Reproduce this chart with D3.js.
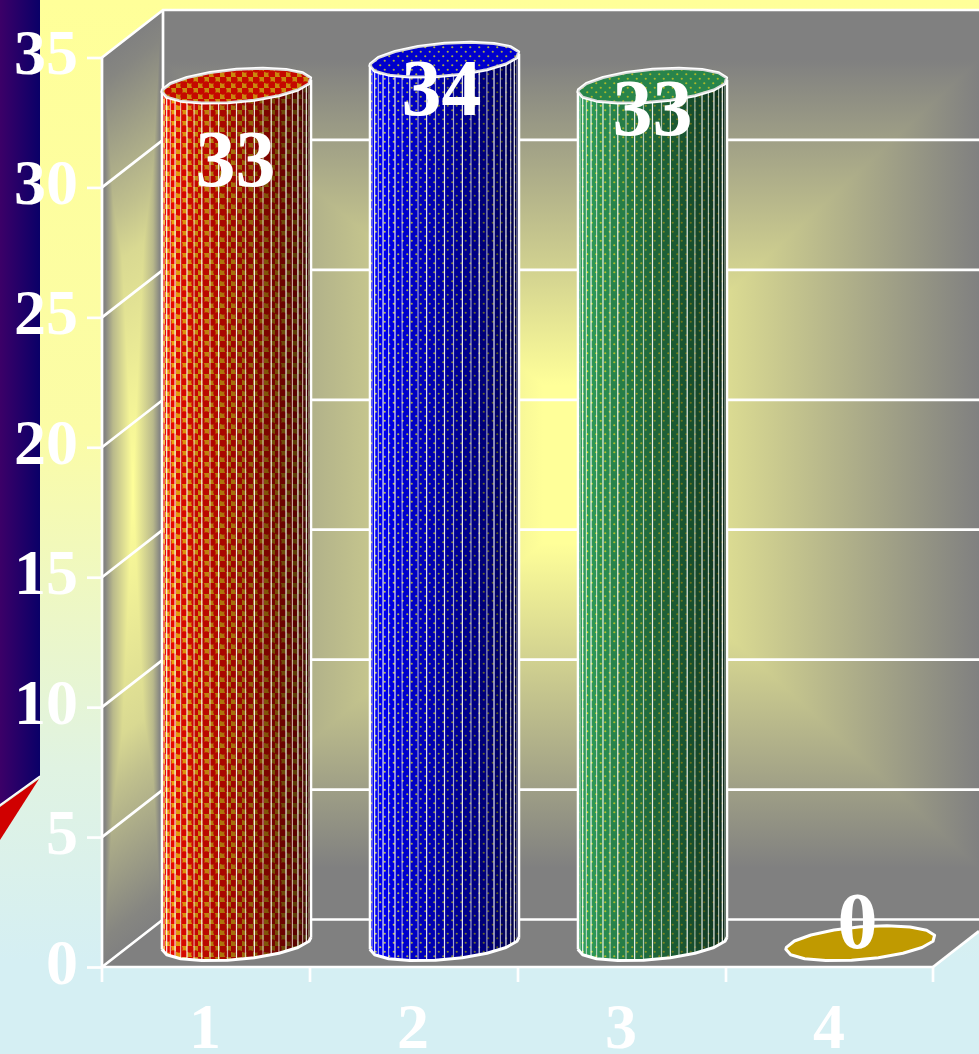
<!DOCTYPE html>
<html>
<head>
<meta charset="utf-8">
<script src="https://d3js.org/d3.v7.min.js"></script>
<style>
html, body { margin: 0; padding: 0; overflow: hidden; }
text { font-family: "Liberation Serif", serif; font-weight: bold; fill: #fff; }
</style>
</head>
<body>
<div id="container"></div>
<script>
const categories = ["1", "2", "3", "4"];
const values = [33, 34, 33, 0];
const yTicks = [0, 5, 10, 15, 20, 25, 30, 35];

const width = 979;
const height = 1054;

// plot box, front plane
const margin = { left: 102, right: 45, bottom: 87, top: 57.5 };
// how far the back wall sits from the front plane
const depth = { x: 61, y: -47.5 };

const x = d3.scaleBand()
    .domain(categories)
    .range([margin.left, width - margin.right]);

const y = d3.scaleLinear()
    .domain([0, 35])
    .range([height - margin.bottom, margin.top]);

const svg = d3.create("svg")
    .attr("width", width)
    .attr("height", height)
    .style("display", "block");
const defs = svg.append("defs");

function linearGrad(id, x1, y1, x2, y2, stops) {
    const g = defs.append("linearGradient").attr("id", id)
        .attr("gradientUnits", "userSpaceOnUse")
        .attr("x1", x1).attr("y1", y1).attr("x2", x2).attr("y2", y2);
    stops.forEach(s => g.append("stop").attr("offset", s[0]).attr("stop-color", s[1]));
}

// page background
linearGrad("bg", 0, 0, 0, 960, [[0, "#ffff99"], [0.45, "#fbfca6"], [0.8, "#e0f3e2"], [1, "#d5eff3"]]);
svg.append("rect").attr("width", width).attr("height", height).attr("fill", "url(#bg)");

// strip on the left
linearGrad("strip", 0, 0, 40, 0, [[0, "#3c0068"], [1, "#0a0068"]]);
svg.append("path").attr("d", "M0,0H40V776L0,805Z").attr("fill", "url(#strip)");
svg.append("path").attr("d", "M40,776L0,805").attr("stroke", "#fff").attr("stroke-width", 1.5);
svg.append("path").attr("d", "M39,779L0,807V840Z").attr("fill", "#d00000");

// wall shading: a horizontal and a vertical ramp, the darker one wins per pixel
const ramp = d3.interpolateRgb("#808080", "#ffff99");
function wall(id, g, w, h, stopsX, stopsY) {
    linearGrad(id + "X", 0, 0, w, 0, stopsX.map(s => [s[0] / w, ramp(s[1])]));
    linearGrad(id + "Y", 0, 0, 0, h, stopsY.map(s => [s[0] / h, ramp(s[1])]));
    g.style("isolation", "isolate");
    g.append("rect").attr("width", w).attr("height", h).attr("fill", `url(#${id}X)`);
    g.append("rect").attr("width", w).attr("height", h).attr("fill", `url(#${id}Y)`)
        .style("mix-blend-mode", "darken");
}

const wallH = y(0) - y(35);
const backW = width - margin.left - depth.x;

const backWall = svg.append("g")
    .attr("transform", `translate(${margin.left + depth.x},${y(35) + depth.y})`);
wall("back", backWall, backW, wallH,
    [[0, 0], [380, 1], [466, 1], [backW, 0]],
    [[0, 0], [50, 0], [375, 1], [533, 1], [858, 0], [wallH, 0]]);

const sideWall = svg.append("g")
    .attr("transform", `matrix(1,${depth.y / depth.x},0,1,${margin.left},${y(35)})`);
wall("side", sideWall, depth.x, wallH,
    [[0, 0], [3, 0.02], [11, 0.45], [31, 1], [51, 0.45], [58, 0.02], [depth.x, 0]],
    [[0, 0], [27, 0.05], [167, 0.5], [217, 0.7], [367, 0.9], [wallH / 2, 1],
     [wallH - 367, 0.9], [wallH - 217, 0.7], [wallH - 167, 0.5], [wallH - 27, 0.05], [wallH, 0]]);

// floor
const frontRight = width - margin.right - 1;
const rightEdgeY = y(0) + depth.y * (width - frontRight) / depth.x;
svg.append("path")
    .attr("d", `M${margin.left},${y(0)}L${margin.left + depth.x},${y(0) + depth.y}H${width}V${rightEdgeY}L${frontRight},${y(0)}Z`)
    .attr("fill", "#808080");

// gridlines on both walls
const grid = svg.append("g").attr("stroke", "#fff").attr("stroke-width", 2.7).attr("fill", "none");
grid.selectAll("path").data(yTicks).join("path")
    .attr("d", d => `M${margin.left},${y(d)}l${depth.x},${depth.y}H${width}`);
grid.append("path").attr("d", `M${margin.left},${y(0)}V${y(35)}`);
grid.append("path").attr("d", `M${margin.left + depth.x},${y(0) + depth.y}V${y(35) + depth.y}`);
grid.append("path").attr("d", `M${frontRight},${y(0)}L${width},${rightEdgeY}`);

// axes
const yAxis = d3.axisLeft(y).tickValues(yTicks).tickSize(15).tickPadding(9);
const yG = svg.append("g").attr("transform", `translate(${margin.left},0)`).call(yAxis);
yG.select(".domain").remove();
yG.selectAll("line").attr("stroke", "#fff").attr("stroke-width", 2.7);
yG.selectAll("text").attr("font-size", 64).attr("dy", 16).attr("fill", "#fff");

const xAxis = d3.axisBottom(x).tickSize(0);
const xG = svg.append("g").attr("transform", `translate(0,${y(0)})`).call(xAxis);
xG.select(".domain").remove();
xG.selectAll("text").attr("font-size", 64).attr("dy", 0)
    .attr("y", 81).attr("dx", -1).attr("fill", "#fff");
svg.append("path")
    .attr("d", `M${margin.left},${y(0)}H${frontRight}`)
    .attr("stroke", "#fff").attr("stroke-width", 2.7);
svg.append("g").selectAll("line").data(x.domain().concat("end")).join("line")
    .attr("x1", d => d === "end" ? frontRight : x(d))
    .attr("x2", d => d === "end" ? frontRight : x(d))
    .attr("y1", y(0))
    .attr("y2", y(0) + 15)
    .attr("stroke", "#fff").attr("stroke-width", 2.7);

// fill patterns for the cylinders
function tile(id, size, bg, draw) {
    const p = defs.append("pattern").attr("id", id).attr("patternUnits", "userSpaceOnUse")
        .attr("width", size).attr("height", size);
    p.append("rect").attr("width", size).attr("height", size).attr("fill", bg);
    draw(p);
}
tile("pRed", 11, "#ea9f10", p => {
    [[2.75, 2.75], [8.25, 8.25]].forEach(c => {
        p.append("circle").attr("cx", c[0]).attr("cy", c[1]).attr("r", 3.9).attr("fill", "#e60a00");
    });
});
function dots(id, bg, dot) {
    tile(id, 9, bg, p => {
        [[2.25, 2.25], [6.75, 6.75]].forEach(c =>
            p.append("circle").attr("cx", c[0]).attr("cy", c[1]).attr("r", 1.1).attr("fill", dot));
    });
}
dots("pBlue", "#0000f0", "#c8c850");
dots("pGreen", "#2f9a58", "#c8d830");

const fills = ["url(#pRed)", "url(#pBlue)", "url(#pGreen)", "#c09a00"];

// ring of the cylinder end, sheared along the depth axis so it tilts
const ax = 70, dx = 26, dy = 17.5, nSeg = 52;

function rim(cx, cy) {
    // start at the leftmost point, go round the near side first
    const start = Math.PI + Math.atan2(dx, ax);
    return d3.range(nSeg + 1).map(i => {
        const t = start + (i / nSeg) * 2 * Math.PI;
        return [cx + ax * Math.cos(t) + dx * Math.sin(t),
                cy - dy * Math.sin(t)];
    });
}
// the outline is coarser than the facets in the original
const coarse = pts => pts.filter((p, i) => i % 3 === 0 || i === pts.length - 1);

const line = d3.line();
const labelX = [-1, -3, 0, -3];
const labelY = [100, 55, 49, 5];

const bars = svg.append("g");
categories.forEach((c, i) => {
    const cx = x(c) + x.bandwidth() / 2 + depth.x / 2;
    const top = y(values[i]) + depth.y / 2;
    const base = y(0) + depth.y / 2;
    const g = bars.append("g");

    const ptsTop = rim(cx, top);
    const ptsBase = rim(cx, base);
    const near = nSeg / 2;

    if (values[i] > 0) {
        // one facet per segment on the near side
        for (let k = 0; k < near; k++) {
            const f = [ptsTop[k], ptsTop[k + 1], ptsBase[k + 1], ptsBase[k]];
            const pos = (k + 0.5) / near;
            const shade = pos < 0.18 ? 0 : (pos - 0.18) / 0.82 * 0.82;
            g.append("path").attr("d", line(f) + "Z").attr("fill", fills[i]);
            g.append("path").attr("d", line(f) + "Z").attr("fill", "#000")
                .attr("fill-opacity", shade);
            // facet edges: every other one is paler
            g.append("path")
                .attr("d", line([ptsTop[k], ptsBase[k]]))
                .attr("stroke", "#fff")
                .attr("stroke-opacity", k % 2 ? 0.9 : 0.6)
                .attr("stroke-width", 1.2);
        }
        // outline of the body
        g.append("path")
            .attr("d", line(coarse(ptsBase.slice(0, near + 1))))
            .attr("fill", "none").attr("stroke", "#fff").attr("stroke-width", 3)
            .attr("stroke-linejoin", "round");
        g.append("path").attr("d", line([ptsTop[0], ptsBase[0]]))
            .attr("stroke", "#fff").attr("stroke-width", 2.2);
        g.append("path").attr("d", line([ptsTop[near], ptsBase[near]]))
            .attr("stroke", "#fff").attr("stroke-width", 2.2);
    }

    const cap = line(coarse(ptsTop)) + "Z";
    g.append("path").attr("d", cap)
        .attr("fill", fills[i]).attr("stroke", "#fff").attr("stroke-width", 3)
        .attr("stroke-linejoin", "round");
    if (values[i] > 0) {
        g.append("path").attr("d", cap).attr("fill", "#000").attr("fill-opacity", 0.14);
    }

    g.append("text")
        .attr("x", cx + labelX[i])
        .attr("y", top + labelY[i])
        .attr("text-anchor", "middle")
        .attr("font-size", 80)
        .text(values[i]);
});

document.getElementById("container").append(svg.node());
</script>
</body>
</html>
